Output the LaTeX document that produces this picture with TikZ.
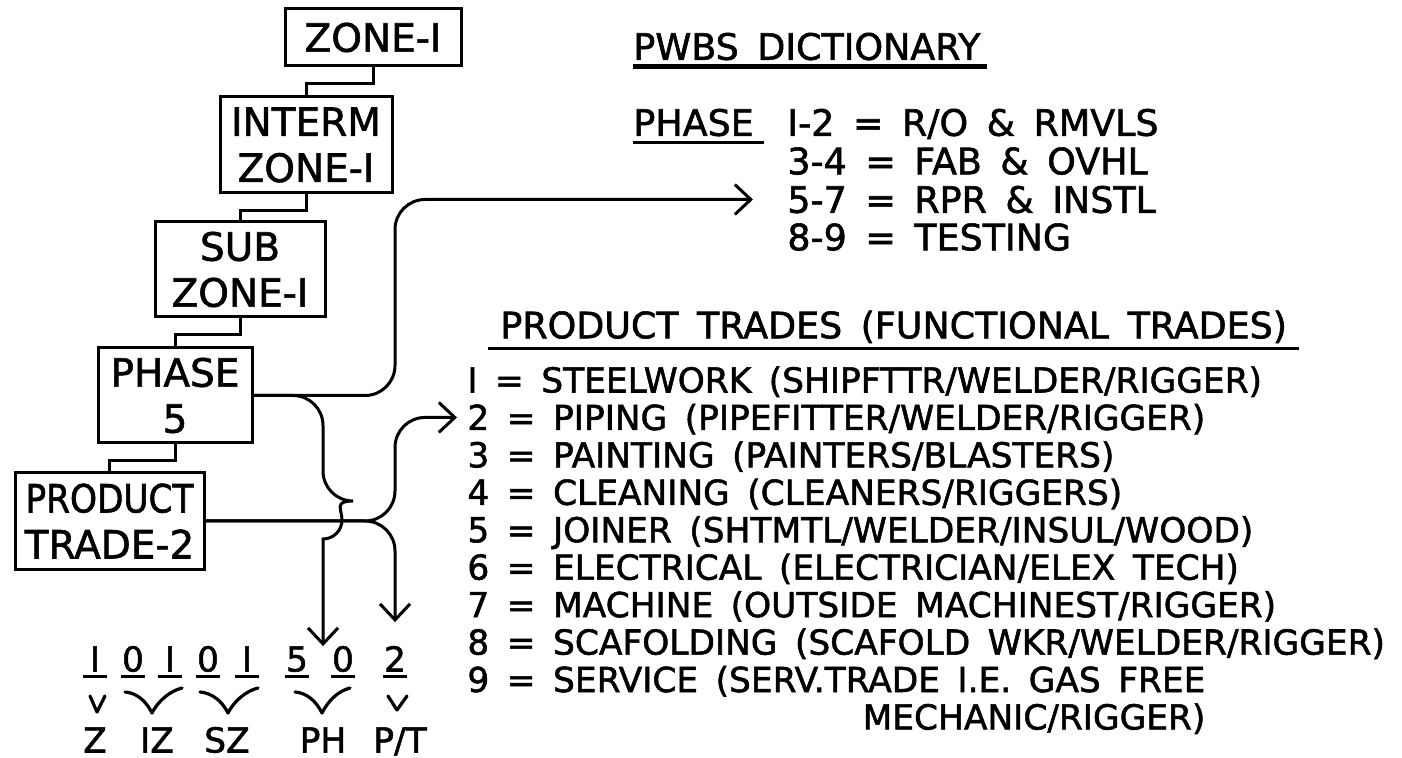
\documentclass[tikz,border=0pt]{standalone}
\usepackage{fontspec}
\newfontfamily\leroy[WordSpace=1.6,FakeBold=1.5]{DejaVu Sans}
\usetikzlibrary{arrows.meta,calc}

\begin{document}
\begin{tikzpicture}[x=0.5pt, y=-0.5pt]

    % Stijlen voor blokken, lijnen en teksten
    \tikzset{
        blok/.style={draw, line width=1.5pt, align=center, inner sep=0pt,
            font=\leroy\fontsize{19.5}{23}\selectfont},
        kop/.style={inner sep=0pt, text height=13.3pt, text depth=0pt, anchor=west,
            font=\leroy\fontsize{18.2}{22}\selectfont},
        tekst/.style={inner sep=0pt, text height=12.5pt, text depth=0pt,
            font=\leroy\fontsize{17.2}{21}\selectfont},
        verbinding/.style={line width=1.5pt},
        stroom/.style={line width=1.5pt, rounded corners=15pt},
        onderlijn/.style={line width=1.5pt},
        haak/.style={line width=1.6pt, line cap=round, line join=round},
        >={Straight Barb[length=8pt, width=15pt]}
    }

    \useasboundingbox (0,0) rectangle (1402,758);

    % --- BLOKKEN ---
    \node[blok, minimum width=88pt, minimum height=28.5pt] (zone) at (373,37.5) {ZONE-I};
    \node[blok, minimum width=86pt, minimum height=48pt] (interm) at (306,145) {INTERM\\ZONE-I};
    \node[blok, minimum width=85pt, minimum height=47.5pt] (sub) at (240,269.5) {SUB\\ZONE-I};
    \node[blok, minimum width=77pt, minimum height=47.5pt] (phase) at (175,395.5) {PHASE\\5};
    \node[blok, minimum width=94.5pt, minimum height=48pt] (prod) at (109.5,521)
        {{\addfontfeature{FakeStretch=0.88}PRODUCT}\\TRADE-2};

    % --- VERBINDINGEN TUSSEN DE BLOKKEN ---
    \foreach \a/\b in {zone/interm, interm/sub, sub/phase, phase/prod} {
        \draw[verbinding] (\a.south) -- ++(0,16) -| (\b.north);
    }

    % --- WOORDENBOEK ---
    \node[kop] (dict) at (633,46.5) {PWBS DICTIONARY};
    \draw[onderlijn, line width=2.5pt] ([yshift=-3pt]dict.south west) -- ([xshift=3pt,yshift=-3pt]dict.south east);
    \node[kop] (phlbl) at (633,122.5) {PHASE};
    \draw[onderlijn] ([yshift=-3pt]phlbl.south west) -- ([xshift=5pt,yshift=-3pt]phlbl.south east);
    \node[kop] (ph12) at (787,122.5) {I-2 = R/O \& RMVLS};
    \node[kop] (ph34) at (787,161) {3-4 = FAB \& OVHL};
    \node[kop] (ph57) at (787,199.5) {5-7 = RPR \& INSTL};
    \node[kop] (ph89) at (787,237) {8-9 = TESTING};

    % --- PRODUCT TRADES ---
    \node[kop] (trkop) at (500,325) {PRODUCT TRADES (FUNCTIONAL TRADES)};
    \draw[onderlijn] ([shift={(-12,10)}]trkop.south west) -- ([shift={(12,10)}]trkop.south east);
    \foreach \t [count=\i] in {
        {I = STEELWORK (SHIPFTTR/WELDER/RIGGER)},
        {2 = PIPING (PIPEFITTER/WELDER/RIGGER)},
        {3 = PAINTING (PAINTERS/BLASTERS)},
        {4 = CLEANING (CLEANERS/RIGGERS)},
        {5 = JOINER (SHTMTL/WELDER/INSUL/WOOD)},
        {6 = ELECTRICAL (ELECTRICIAN/ELEX TECH)},
        {7 = MACHINE (OUTSIDE MACHINEST/RIGGER)},
        {8 = SCAFOLDING (SCAFOLD WKR/WELDER/RIGGER)},
        {9 = SERVICE (SERV.TRADE I.E. GAS FREE}} {
        \node[tekst, anchor=west] (tr\i) at (467,{380+37.44*(\i-1)}) {\t};
    }
    \path (tr9.east) ++(0,37.44) node[tekst, anchor=east] (tr10) {MECHANIC/RIGGER)};

    % --- CODE ONDERAAN ---
    \foreach \d/\x/\n in {I/95/c1, 0/133/c2, I/170/c3, 0/208/c4, I/247/c5, 5/297/c6, 0/343/c7, 2/395/c8} {
        \node[tekst] (\n) at (\x,659) {\d};
        \draw[onderlijn] ([shift={(-12,5)}]\n.south) -- ([shift={(12,5)}]\n.south);
    }
    \node[tekst] (lz) at (95,740) {Z};
    \node[tekst] (liz) at (157,740) {IZ};
    \node[tekst] (lsz) at (227,740) {SZ};
    \node[tekst] (lph) at (323,740) {PH};
    \node[tekst] (lpt) at (400,740) {P/T};

    % haakjes tussen cijfers en letters
    \draw[haak] (90,696) -- (97,712) -- (105,696);
    \foreach \l/\m/\r in {125/152/182, 200/228/258, 295/322/350} {
        \draw[haak] (\l,692) .. controls +(12,1) and +(-6,-12) .. (\m,713)
            .. controls +(6,-12) and +(-12,3) .. (\r,688);
    }
    \draw[haak] (388,696) -- (397,710) -- (407,696);

    % --- STROOMLIJNEN ---
    \draw[stroom, ->] (phase.east) -| (c8 |- ph57.west) -- ([xshift=-17pt]ph57.west);
    \draw[stroom, ->] (phase.east) -| ($(lph |- prod.east)+(0,-20)$) [sharp corners]
        arc[start angle=-90, end angle=90, radius=19] -- (lph |- c6.north);
    \draw[stroom, ->] (prod.east) -| (c8 |- tr2.west) -- ([xshift=-5pt]tr2.west);
    \draw[stroom, ->] (prod.east) -| ([yshift=12pt]c8.north);

\end{tikzpicture}
\end{document}
